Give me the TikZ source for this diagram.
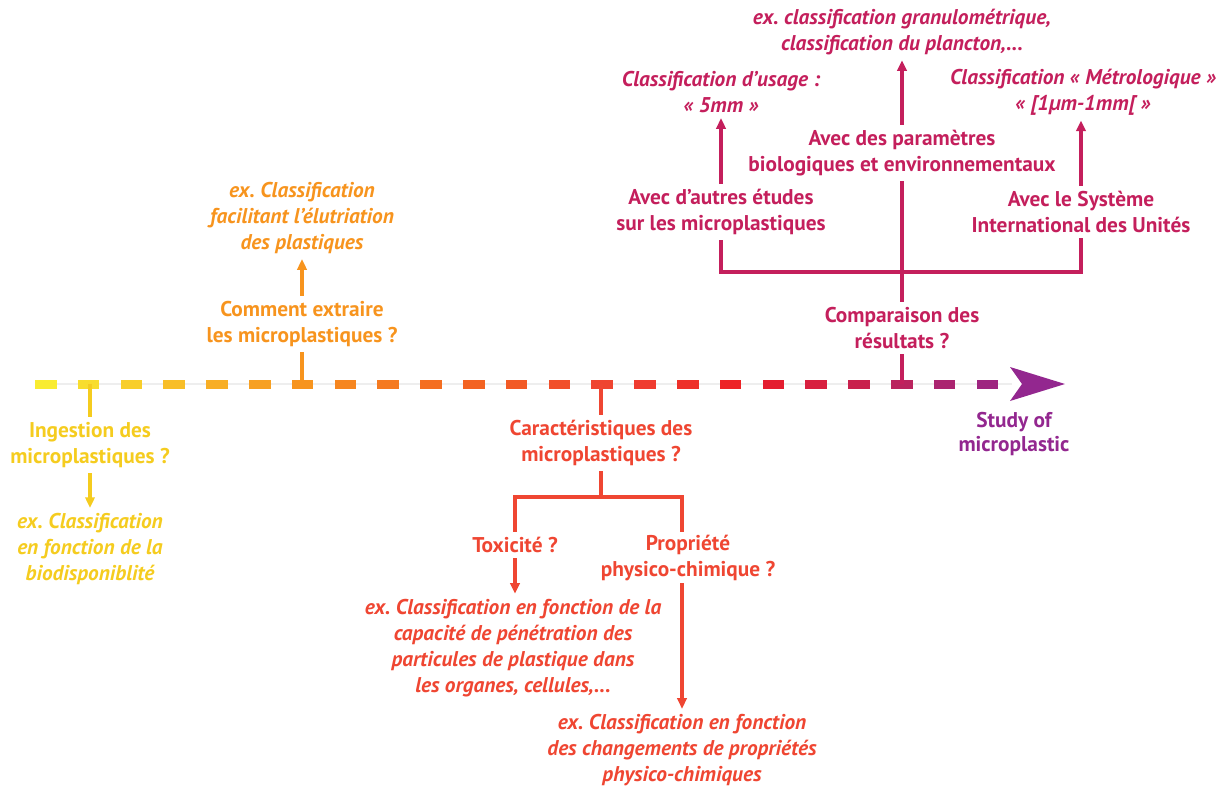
\documentclass[tikz,border=0pt]{standalone}
\usepackage{fontspec}
\setmainfont{PT Sans}
\usetikzlibrary{arrows.meta}
\definecolor{cyel}{HTML}{F5CC1F}
\definecolor{cora}{HTML}{F7941E}
\definecolor{cred}{HTML}{EF4632}
\definecolor{ccri}{HTML}{C41F5C}
\definecolor{cpur}{HTML}{93278F}
\definecolor{cgray}{HTML}{EEEEEE}
\tikzset{
  txt/.style={align=center, font=\frenchspacing\bfseries\fontsize{16}{19.5}\selectfont, inner sep=1.5pt, outer sep=2.5pt},
  extxt/.style={align=center, font=\frenchspacing\bfseries\itshape\fontsize{16}{19.5}\selectfont, inner sep=1.5pt, outer sep=2.5pt},
  conn/.style={line width=2.5pt},
  arr/.style={conn, -{Triangle[length=8pt,width=7pt]}},
}
\begin{document}
\begin{tikzpicture}[x=0.75pt,y=-0.75pt]
\useasboundingbox (0,0) rectangle (1228,789);
% timeline
\draw[cgray, line width=1.5pt] (35,384) -- (1012,384);
\foreach \c [count=\i from 0] in {F9EC31,F8DD2E,F8CE2B,F8BE28,F8AE25,F7A022,F7941E,F6861F,F57A20,F46E21,F36322,F25A25,F14F2A,EF4530,EF3B2F,EE3029,ED2226,E41D2F,D81F3F,C9214D,BA235E,AB2470,9E2580}{
  \definecolor{dc}{HTML}{\c}
  \fill[dc] (35+42.8*\i,379.5) rectangle ++(21.5,9);
}
\fill[cpur] (1010,367) -- (1065,384) -- (1010,401) -- (1022,384) -- cycle;
\coordinate (ty) at (90,384);
\coordinate (to) at (302,384);
\coordinate (tr) at (601,384);
\coordinate (tc) at (902,384);
\node[txt, text=cpur, font=\bfseries\fontsize{16}{18}\selectfont] (study) at (1014,434) {Study of\\microplastic};

% yellow branch
\node[txt, text=cyel] (yq) at (90,445) {Ingestion des\\microplastiques ?};
\node[extxt, text=cyel] (yex) at (90,549) {ex. Classification\\en fonction de la\\biodisponiblité};
\draw[conn, cyel] (ty) -- (yq.north);
\draw[arr, cyel] (yq.south) -- (yex.north);

% orange branch
\node[txt, text=cora] (oq) at (302,324) {Comment extraire\\les microplastiques ?};
\node[extxt, text=cora] (oex) at (302,218) {ex. Classification\\facilitant l’élutriation\\des plastiques};
\draw[conn, cora] (to) -- (oq.south);
\draw[arr, cora] (oq.north) -- (oex.south);

% red branch
\node[txt, text=cred] (rq) at (601,443) {Caractéristiques des\\microplastiques ?};
\node[txt, text=cred] (tox) at (515,545) {Toxicité ?};
\node[txt, text=cred] (prop) at (688,558) {Propriété\\physico-chimique ?};
\node[extxt, text=cred] (toxex) at (513,648) {ex. Classification en fonction de la\\capacité de pénétration des\\particules de plastique dans\\les organes, cellules,...};
\node[extxt, text=cred] (propex) at (682,750) {ex. Classification en fonction\\des changements de propriétés\\physico-chimiques};
\coordinate (rj) at (601,497);
\coordinate (rl) at (515,497);
\coordinate (rr) at (682,497);
\coordinate (pb) at (682,532);
\coordinate (pt) at (682,583);
\draw[conn, cred] (tr) -- (rq.north);
\draw[conn, cred] (rq.south) -- (rj);
\draw[conn, cred] (tox.north) -- (rl) -- (rr) -- (pb);
\draw[arr, cred] (tox.south) -- (toxex.north -| tox.south);
\draw[arr, cred] (pt) -- (propex.north -| pt);

% crimson branch
\node[txt, text=ccri] (cq) at (902,328) {Comparaison des\\résultats ?};
\node[txt, text=ccri] (par) at (902,153) {Avec des paramètres\\biologiques et environnementaux};
\node[txt, text=ccri] (aut) at (721,212) {Avec d’autres études\\sur les microplastiques};
\node[txt, text=ccri] (si) at (1081,212) {Avec le Système\\International des Unités};
\node[extxt, text=ccri] (use) at (721,92) {Classification d’usage :\\« 5mm »};
\node[extxt, text=ccri] (met) at (1083,92) {Classification « Métrologique »\\« [1µm-1mm[ »};
\node[extxt, text=ccri] (gra) at (902,32) {ex. classification granulométrique,\\classification du plancton,...};
\coordinate (cj) at (902,272);
\coordinate (cl) at (721,272);
\coordinate (cr) at (1081,272);
\draw[conn, ccri] (tc) -- (cq.south);
\draw[conn, ccri] (cq.north) -- (cj) -- (par.south);
\draw[conn, ccri] (aut.south) -- (cl) -- (cr) -- (si.south);
\draw[arr, ccri] (par.north) -- (gra.south);
\draw[arr, ccri] (aut.north) -- (use.south);
\draw[arr, ccri] (si.north) -- (met.south -| si.north);
\end{tikzpicture}
\end{document}
